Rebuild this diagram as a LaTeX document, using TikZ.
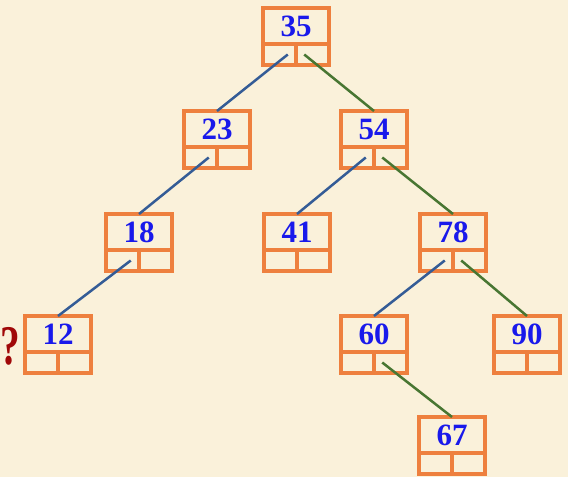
\documentclass[tikz,border=0pt]{standalone}
\usepackage{fontspec}
\setmainfont{Liberation Serif}
\usetikzlibrary{calc}
\definecolor{parchment}{RGB}{250,241,218}
\definecolor{boxorange}{RGB}{238,128,62}
\definecolor{keyblue}{RGB}{25,25,235}
\definecolor{leftblue}{RGB}{52,92,150}
\definecolor{rightgreen}{RGB}{72,118,50}
\definecolor{askred}{RGB}{160,8,8}

% one tree node: key cell on top, two pointer cells below
\newcommand{\bstnode}[4]{%
	\node[keybox] (#1) at (#2,#3) {#4};
	\node[ptrbox, anchor=north east] (#1l) at (#1.south) {};
	\node[ptrbox, anchor=north west] (#1r) at (#1.south) {};
}

\begin{document}
\begin{tikzpicture}[
		x=1pt, y=-1pt,
		keybox/.style={rectangle, draw=boxorange, line width=3.3pt, anchor=north,
			minimum width=66pt, minimum height=36pt, inner sep=0pt, outer sep=0pt,
			text=keyblue, font=\fontsize{31}{31}\selectfont\bfseries},
		ptrbox/.style={rectangle, draw=boxorange, line width=3.3pt,
			minimum width=33pt, minimum height=21pt, inner sep=0pt, outer sep=0pt},
		leftlink/.style={draw=leftblue, line width=2.5pt},
		rightlink/.style={draw=rightgreen, line width=2.5pt}
		]
		
		% --- Background ---
		\fill[parchment] (0,0) rectangle (568,477);
		\useasboundingbox (0,0) rectangle (568,477);
		
		% --- Nodes, level by level ---
		\bstnode{n35}{296}{8}{35}
		
		\bstnode{n23}{217}{111}{23}
		\bstnode{n54}{374}{111}{54}
		
		\bstnode{n18}{139}{214}{18}
		\bstnode{n41}{297}{214}{41}
		\bstnode{n78}{453}{214}{78}
		
		\bstnode{n12}{58}{316}{12}
		\bstnode{n60}{374}{316}{60}
		\bstnode{n90}{527}{316}{90}
		
		\bstnode{n67}{452}{417}{67}
		
		% --- Left links (blue) ---
		\draw[leftlink] ($(n35l.center)!0.5!(n35l.east)$) -- (n23.north);
		\draw[leftlink] ($(n23l.center)!0.5!(n23l.east)$) -- (n18.north);
		\draw[leftlink] ($(n18l.center)!0.5!(n18l.east)$) -- (n12.north);
		\draw[leftlink] ($(n54l.center)!0.5!(n54l.east)$) -- (n41.north);
		\draw[leftlink] ($(n78l.center)!0.5!(n78l.east)$) -- (n60.north);
		
		% --- Right links (green) ---
		\draw[rightlink] ($(n35r.center)!0.5!(n35r.west)$) -- (n54.north);
		\draw[rightlink] ($(n54r.center)!0.5!(n54r.west)$) -- (n78.north);
		\draw[rightlink] ($(n78r.center)!0.5!(n78r.west)$) -- (n90.north);
		\draw[rightlink] ($(n60r.center)!0.5!(n60r.west)$) -- (n67.north);
		
		% --- Where the new key goes ---
		\node[text=askred, font=\fontsize{56}{56}\selectfont\bfseries, xscale=0.7,
			anchor=west, inner sep=0pt] (ask) at (0,346) {?};
		
	\end{tikzpicture}
\end{document}
